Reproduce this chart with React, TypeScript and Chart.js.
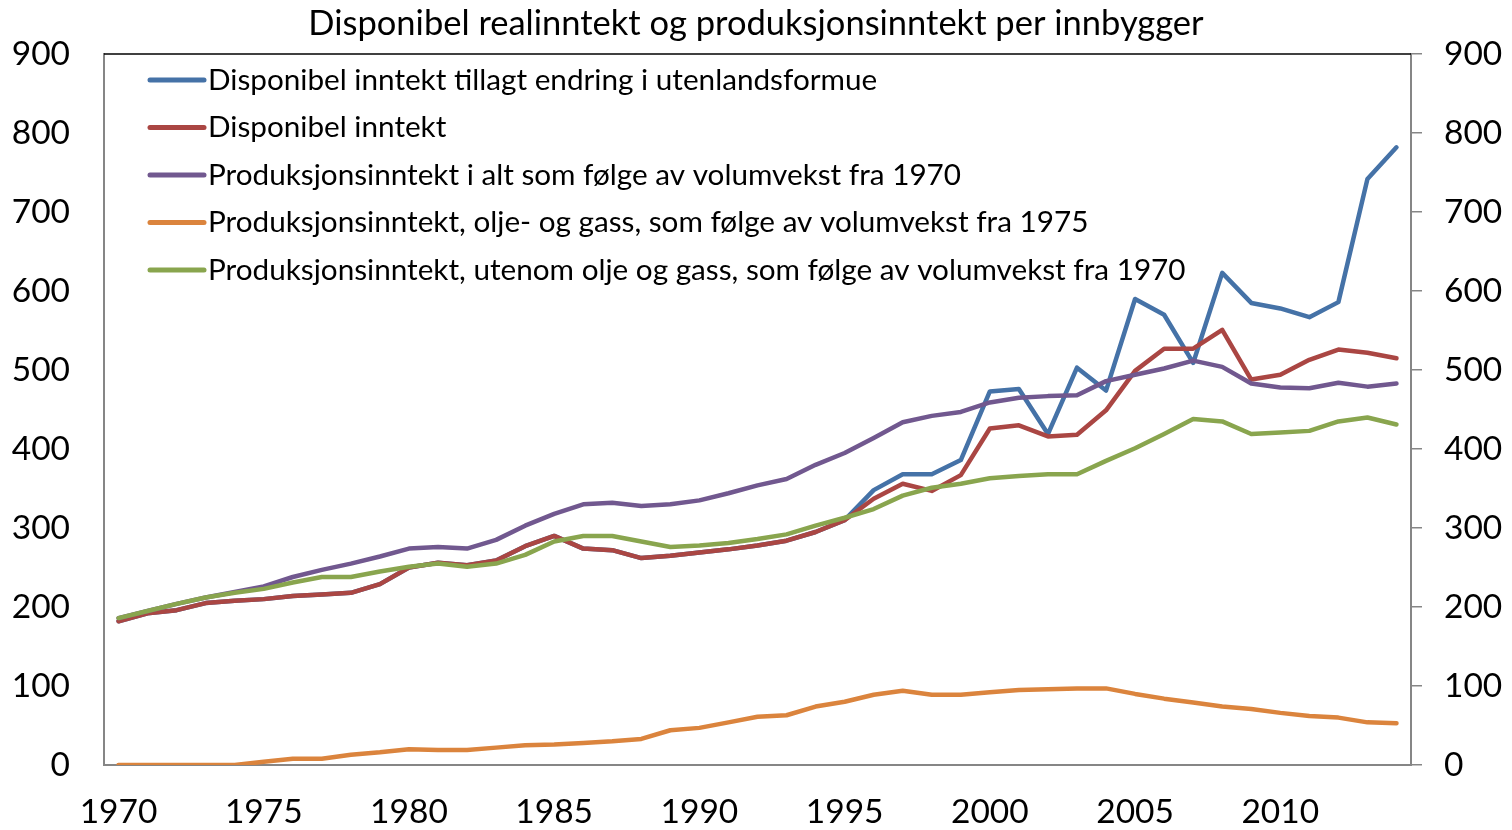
import React, { useEffect, useRef } from 'react';
import { Chart, registerables } from 'chart.js';
Chart.register(...registerables);

const years = [
  1970, 1971, 1972, 1973, 1974, 1975, 1976, 1977, 1978, 1979,
  1980, 1981, 1982, 1983, 1984, 1985, 1986, 1987, 1988, 1989,
  1990, 1991, 1992, 1993, 1994, 1995, 1996, 1997, 1998, 1999,
  2000, 2001, 2002, 2003, 2004, 2005, 2006, 2007, 2008, 2009,
  2010, 2011, 2012, 2013, 2014,
];

const dispInklFormue = [
  182, 192, 196, 205, 208, 210, 214, 216, 218, 229,
  250, 256, 253, 259, 277, 290, 274, 272, 262, 265,
  269, 273, 278, 284, 295, 310, 348, 368, 368, 386,
  473, 476, 419, 503, 474, 590, 570, 509, 623, 585,
  578, 567, 586, 742, 782,
];

const dispInntekt = [
  182, 192, 196, 205, 208, 210, 214, 216, 218, 229,
  250, 256, 253, 259, 277, 290, 274, 272, 262, 265,
  269, 273, 278, 284, 295, 310, 337, 356, 347, 367,
  426, 430, 416, 418, 449, 499, 527, 527, 551, 488,
  494, 513, 526, 522, 515,
];

const prodIAlt = [
  186, 195, 204, 212, 219, 226, 238, 247, 255, 264,
  274, 276, 274, 285, 303, 318, 330, 332, 328, 330,
  335, 344, 354, 362, 380, 395, 414, 434, 442, 447,
  459, 465, 467, 468, 486, 494, 502, 512, 504, 483,
  478, 477, 484, 479, 483,
];

const prodOljeGass = [
  0, 0, 0, 0, 0, 4, 8, 8, 13, 16,
  20, 19, 19, 22, 25, 26, 28, 30, 33, 44,
  47, 54, 61, 63, 74, 80, 89, 94, 89, 89,
  92, 95, 96, 97, 97, 90, 84, 79, 74, 71,
  66, 62, 60, 54, 53,
];

const prodUtenomOlje = [
  186, 195, 204, 212, 218, 223, 231, 238, 238, 245,
  251, 255, 251, 255, 266, 283, 290, 290, 283, 276,
  278, 281, 286, 292, 303, 313, 324, 341, 351, 356,
  363, 366, 368, 368, 385, 401, 419, 438, 435, 419,
  421, 423, 435, 440, 431,
];

const seriesLabels = [
  'Disponibel inntekt tillagt endring i utenlandsformue',
  'Disponibel inntekt',
  'Produksjonsinntekt i alt som følge av volumvekst fra 1970',
  'Produksjonsinntekt, olje- og gass, som følge av volumvekst fra 1975',
  'Produksjonsinntekt, utenom olje og gass, som følge av volumvekst fra 1970',
];

const seriesColors = ['#4572A7', '#AA4643', '#71588F', '#DB843D', '#89A54E'];
const yTicks = [0, 100, 200, 300, 400, 500, 600, 700, 800, 900];
const titleText = 'Disponibel realinntekt og produksjonsinntekt per innbygger';

const FONT = 'Lato';

const legendPlugin = {
  id: 'insideLegend',
  afterDraw(chart: any) {
    const { ctx, chartArea } = chart;
    ctx.save();
    chart.data.datasets.forEach((ds: any, i: number) => {
      const y = chartArea.top + 26 + i * 47.5;
      const x0 = chartArea.left + 46;
      ctx.strokeStyle = ds.borderColor;
      ctx.lineWidth = 5;
      ctx.lineCap = 'round';
      ctx.beginPath();
      ctx.moveTo(x0, y);
      ctx.lineTo(x0 + 54, y);
      ctx.stroke();
      ctx.fillStyle = '#000';
      ctx.font = `29.7px ${FONT}`;
      ctx.textBaseline = 'middle';
      ctx.textAlign = 'left';
      ctx.fillText(ds.label, x0 + 58, y);
    });
    ctx.restore();
  },
};

const topBorderPlugin = {
  id: 'topBorder',
  afterDraw(chart: any) {
    const { ctx, chartArea } = chart;
    ctx.save();
    ctx.strokeStyle = '#000';
    ctx.lineWidth = 1.5;
    ctx.beginPath();
    ctx.moveTo(chartArea.left, chartArea.top);
    ctx.lineTo(chartArea.right, chartArea.top);
    ctx.stroke();
    ctx.restore();
  },
};

export default function App() {
  const ref = useRef<HTMLCanvasElement>(null);

  useEffect(() => {
    let chart: Chart | null = null;
    let cancelled = false;
    const build = () => {
      if (cancelled || !ref.current) return;
      const tickFont = { family: FONT, size: 33.5 };
      const values = [dispInklFormue, dispInntekt, prodIAlt, prodOljeGass, prodUtenomOlje];
      chart = new Chart(ref.current, {
        type: 'line',
        data: {
          labels: years.map(String),
          datasets: values.map((v, i) => ({
            label: seriesLabels[i],
            data: v,
            borderColor: seriesColors[i],
            backgroundColor: seriesColors[i],
            borderWidth: 4.5,
            pointRadius: 0,
            tension: 0,
            fill: false,
            order: 5 - i,
            borderJoinStyle: 'round' as const,
            borderCapStyle: 'round' as const,
          })),
        },
        options: {
          responsive: false,
          animation: false,
          layout: { padding: 0 },
          plugins: {
            legend: { display: false },
            tooltip: { enabled: false },
            title: {
              display: true,
              text: titleText,
              color: '#000',
              font: { family: FONT, size: 34.5, weight: 'normal', lineHeight: 1.2 },
              padding: { top: 1, bottom: 9.6 },
            },
          },
          scales: {
            x: {
              type: 'category',
              offset: true,
              grid: { display: false, drawTicks: false },
              border: { display: true, color: '#868686', width: 2 },
              ticks: {
                autoSkip: false,
                maxRotation: 0,
                minRotation: 0,
                color: '#000',
                font: tickFont,
                padding: 27,
                callback: (_v: any, i: number) => (years[i] % 5 === 0 ? String(years[i]) : ''),
              },
              afterFit: (s: any) => {
                s.height = 65;
              },
            },
            y: {
              position: 'left',
              min: 0,
              max: 900,
              afterBuildTicks: (s: any) => {
                s.ticks = yTicks.map((v) => ({ value: v }));
              },
              grid: { display: false, drawTicks: false },
              border: { display: true, color: '#868686', width: 2 },
              ticks: { color: '#000', font: tickFont, padding: 34 },
              afterFit: (s: any) => {
                s.width = 104;
              },
            },
            y2: {
              position: 'right',
              min: 0,
              max: 900,
              afterBuildTicks: (s: any) => {
                s.ticks = yTicks.map((v) => ({ value: v }));
              },
              grid: { drawOnChartArea: false, drawTicks: true, tickLength: 11, color: '#868686', lineWidth: 1.5 },
              border: { display: true, color: '#868686', width: 2 },
              ticks: { color: '#000', font: tickFont, padding: 22 },
              afterFit: (s: any) => {
                s.width = 101;
              },
            },
          },
        } as any,
        plugins: [legendPlugin, topBorderPlugin],
      });
    };
    if ((document as any).fonts && (document as any).fonts.load) {
      (document as any).fonts.load(`30px ${FONT}`).then(build, build);
    } else {
      build();
    }
    return () => {
      cancelled = true;
      if (chart) chart.destroy();
    };
  }, []);

  return (
    <div style={{ position: 'fixed', left: 0, top: 0, width: 1512, height: 830, background: '#fff' }}>
      <canvas ref={ref} width={1512} height={830} style={{ display: 'block', width: 1512, height: 830 }} />
    </div>
  );
}
